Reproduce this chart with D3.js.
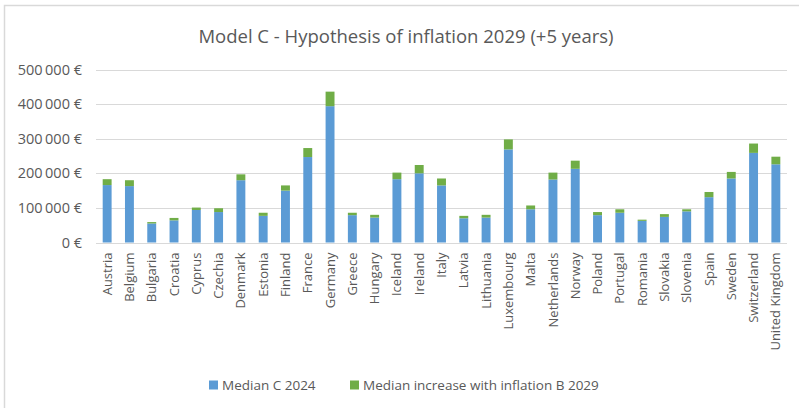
<!DOCTYPE html>
<html>
<head>
<meta charset="utf-8">
<script src="https://cdn.jsdelivr.net/npm/d3@7"></script>
<style>
  body { margin: 0; background: #fff; }
  text { font-family: "Open Sans", "Liberation Sans", sans-serif; fill: #595959; }
</style>
</head>
<body>
<div id="container"></div>
<script>

// countries on the x axis
const countries = ['Austria', 'Belgium', 'Bulgaria', 'Croatia', 'Cyprus', 'Czechia', 'Denmark', 'Estonia',
  'Finland', 'France', 'Germany', 'Greece', 'Hungary', 'Iceland', 'Ireland', 'Italy', 'Latvia', 'Lithuania',
  'Luxembourg', 'Malta', 'Netherlands', 'Norway', 'Poland', 'Portugal', 'Romania', 'Slovakia', 'Slovenia',
  'Spain', 'Sweden', 'Switzerland', 'United Kingdom'];

// median C 2024 (blue)
const median2024 = [166000, 163000, 55000, 64000, 94000, 88000, 180000, 77000,
  150000, 247000, 394000, 79000, 72000, 183000, 200000, 165000, 70000, 72000,
  269000, 96000, 182000, 213000, 79000, 86000, 62500, 74000, 90000,
  131000, 185000, 259000, 226000];

// increase with inflation B 2029 (green, stacked on top)
const increase2029 = [17000, 17000, 4000, 7000, 7000, 11000, 17000, 9000,
  15000, 26000, 42000, 7000, 8000, 19000, 24000, 20000, 7000, 8000,
  29000, 11000, 20000, 23500, 9000, 10000, 3500, 8000, 6000,
  15000, 19000, 27000, 22000];

const yTicks = [0, 100000, 200000, 300000, 400000, 500000];
const seriesNames = ['Median C 2024', 'Median increase with inflation B 2029'];
const colors = ['#5b9bd5', '#70ad47'];

const width = 799, height = 408;
const margin = { top: 69.5, right: 12, bottom: 165.5, left: 96 };

const svg = d3.create('svg')
    .attr('width', width)
    .attr('height', height);

// chart border (only top/left visible in the frame)
svg.append('rect')
    .attr('x', 4.5).attr('y', 5.5)
    .attr('width', width + 10).attr('height', height + 10)
    .attr('fill', 'none')
    .attr('stroke', '#d9d9d9')
    .attr('stroke-width', 1.5);

const x = d3.scaleBand()
    .domain(countries)
    .range([margin.left, width - margin.right])
    .paddingInner(0.6)
    .paddingOuter(0.3);

const y = d3.scaleLinear()
    .domain([0, 500000])
    .range([height - margin.bottom, margin.top]);

const fmt = v => d3.format(',')(v).replace(/,/g, '\u2009') + ' €';

// gridlines + y labels
svg.append('g')
  .selectAll('line').data(yTicks).enter().append('line')
    .attr('x1', margin.left).attr('x2', width - margin.right)
    .attr('y1', d => Math.round(y(d)) + 0.5).attr('y2', d => Math.round(y(d)) + 0.5)
    .attr('stroke', '#d9d9d9')
    .attr('stroke-width', 1);

svg.append('g')
  .selectAll('text').data(yTicks).enter().append('text')
    .attr('x', 82)
    .attr('y', d => y(d))
    .attr('dy', '0.35em')
    .attr('text-anchor', 'end')
    .style('font-size', '14.5px')
    .text(d => d === 0 ? '0 €' : fmt(d));

// stacked bars
const rows = countries.map((c, i) => ({ country: c, a: median2024[i], b: increase2029[i] }));
const stack = d3.stack().keys(['a', 'b'])(rows);

svg.append('g')
  .selectAll('g').data(stack).enter().append('g')
    .attr('fill', (d, i) => colors[i])
  .selectAll('rect').data(d => d).enter().append('rect')
    .attr('x', d => x(d.data.country))
    .attr('width', x.bandwidth())
    .attr('y', d => y(d[1]))
    .attr('height', d => y(d[0]) - y(d[1]));

// x labels, rotated
svg.append('g')
  .selectAll('text').data(countries).enter().append('text')
    .attr('transform', d => `translate(${x(d) + x.bandwidth() / 2}, ${height - margin.bottom + 10}) rotate(-90)`)
    .attr('dy', '0.35em')
    .attr('text-anchor', 'end')
    .style('font-size', '13px')
    .text(d => d);

// title
svg.append('text')
    .attr('x', 406)
    .attr('y', 37)
    .attr('dy', '0.35em')
    .attr('text-anchor', 'middle')
    .style('font-size', '18.5px')
    .text('Model C - Hypothesis of inflation 2029 (+5 years)');

// legend
const legendX = [209, 350];
const lg = svg.append('g')
  .selectAll('g').data(seriesNames).enter().append('g')
    .attr('transform', (d, i) => `translate(${legendX[i]}, 385)`);
lg.append('rect')
    .attr('x', 0).attr('y', -4.5)
    .attr('width', 9).attr('height', 9)
    .attr('fill', (d, i) => colors[i]);
lg.append('text')
    .attr('x', 13)
    .attr('dy', '0.35em')
    .style('font-size', '13.5px')
    .text(d => d);

container.append(svg.node());

</script>
</body>
</html>
